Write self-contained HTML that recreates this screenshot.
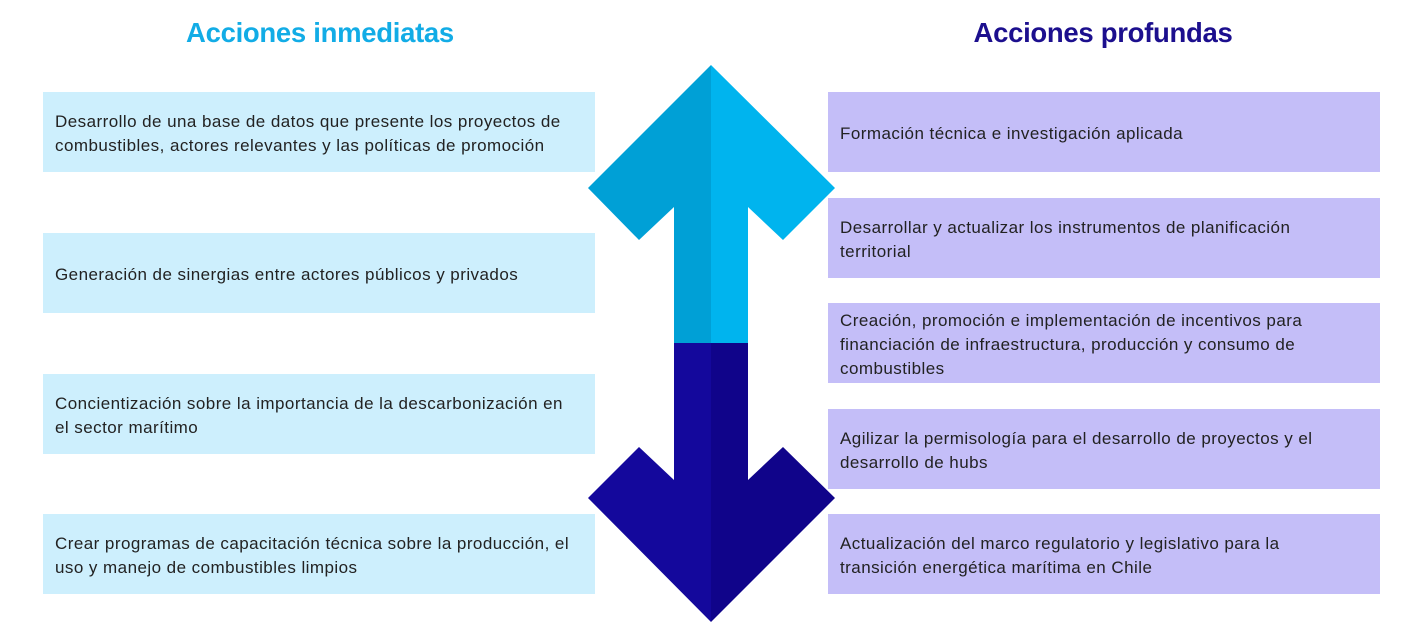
<!DOCTYPE html>
<html><head><meta charset="utf-8"><style>
body{margin:0;width:1420px;height:630px;background:#fff;position:relative;font-family:"Liberation Sans",sans-serif;overflow:hidden}
.t{position:absolute;top:17px;font-weight:bold;font-size:27.5px;text-align:center;width:500px;letter-spacing:-0.3px}
.b{position:absolute;display:flex;align-items:center;box-sizing:border-box;padding-left:12px;padding-top:4px;font-size:17px;letter-spacing:0.45px;line-height:24px;color:#222;height:80px;white-space:nowrap}
.l{left:43px;width:552px;background:#cdeffd}
.r{left:828px;width:552px;background:#c4bef8}
</style></head><body>
<div class="t" style="left:70px;color:#12ace6">Acciones inmediatas</div>
<div class="t" style="left:853px;color:#1c0f8e">Acciones profundas</div>
<div class="b l" style="top:92px"><div>Desarrollo de una base de datos que presente los proyectos de<br>combustibles, actores relevantes y las políticas de promoción</div></div>
<div class="b l" style="top:233px">Generación de sinergias entre actores públicos y privados</div>
<div class="b l" style="top:374px"><div>Concientización sobre la importancia de la descarbonización en<br>el sector marítimo</div></div>
<div class="b l" style="top:514px"><div>Crear programas de capacitación técnica sobre la producción, el<br>uso y manejo de combustibles limpios</div></div>
<div class="b r" style="top:92px">Formación técnica e investigación aplicada</div>
<div class="b r" style="top:198px"><div>Desarrollar y actualizar los instrumentos de planificación<br>territorial</div></div>
<div class="b r" style="top:303px"><div>Creación, promoción e implementación de incentivos para<br>financiación de infraestructura, producción y consumo de<br>combustibles</div></div>
<div class="b r" style="top:409px"><div>Agilizar la permisología para el desarrollo de proyectos y el<br>desarrollo de hubs</div></div>
<div class="b r" style="top:514px"><div>Actualización del marco regulatorio y legislativo para la<br>transición energética marítima en Chile</div></div>
<svg width="1420" height="630" style="position:absolute;left:0;top:0">
<polygon points="711,65 588,188 639,240 674,207 674,344 711,344" fill="#00a0d6"/>
<polygon points="711,65 835,188 783,240 748,207 748,344 711,344" fill="#00b4ee"/>
<polygon points="674,343 674,480 639,447 588,498 711,622 711,343" fill="#14089c"/>
<polygon points="748,343 748,480 783,447 835,498 711,622 711,343" fill="#10048a"/>
</svg>
</body></html>
